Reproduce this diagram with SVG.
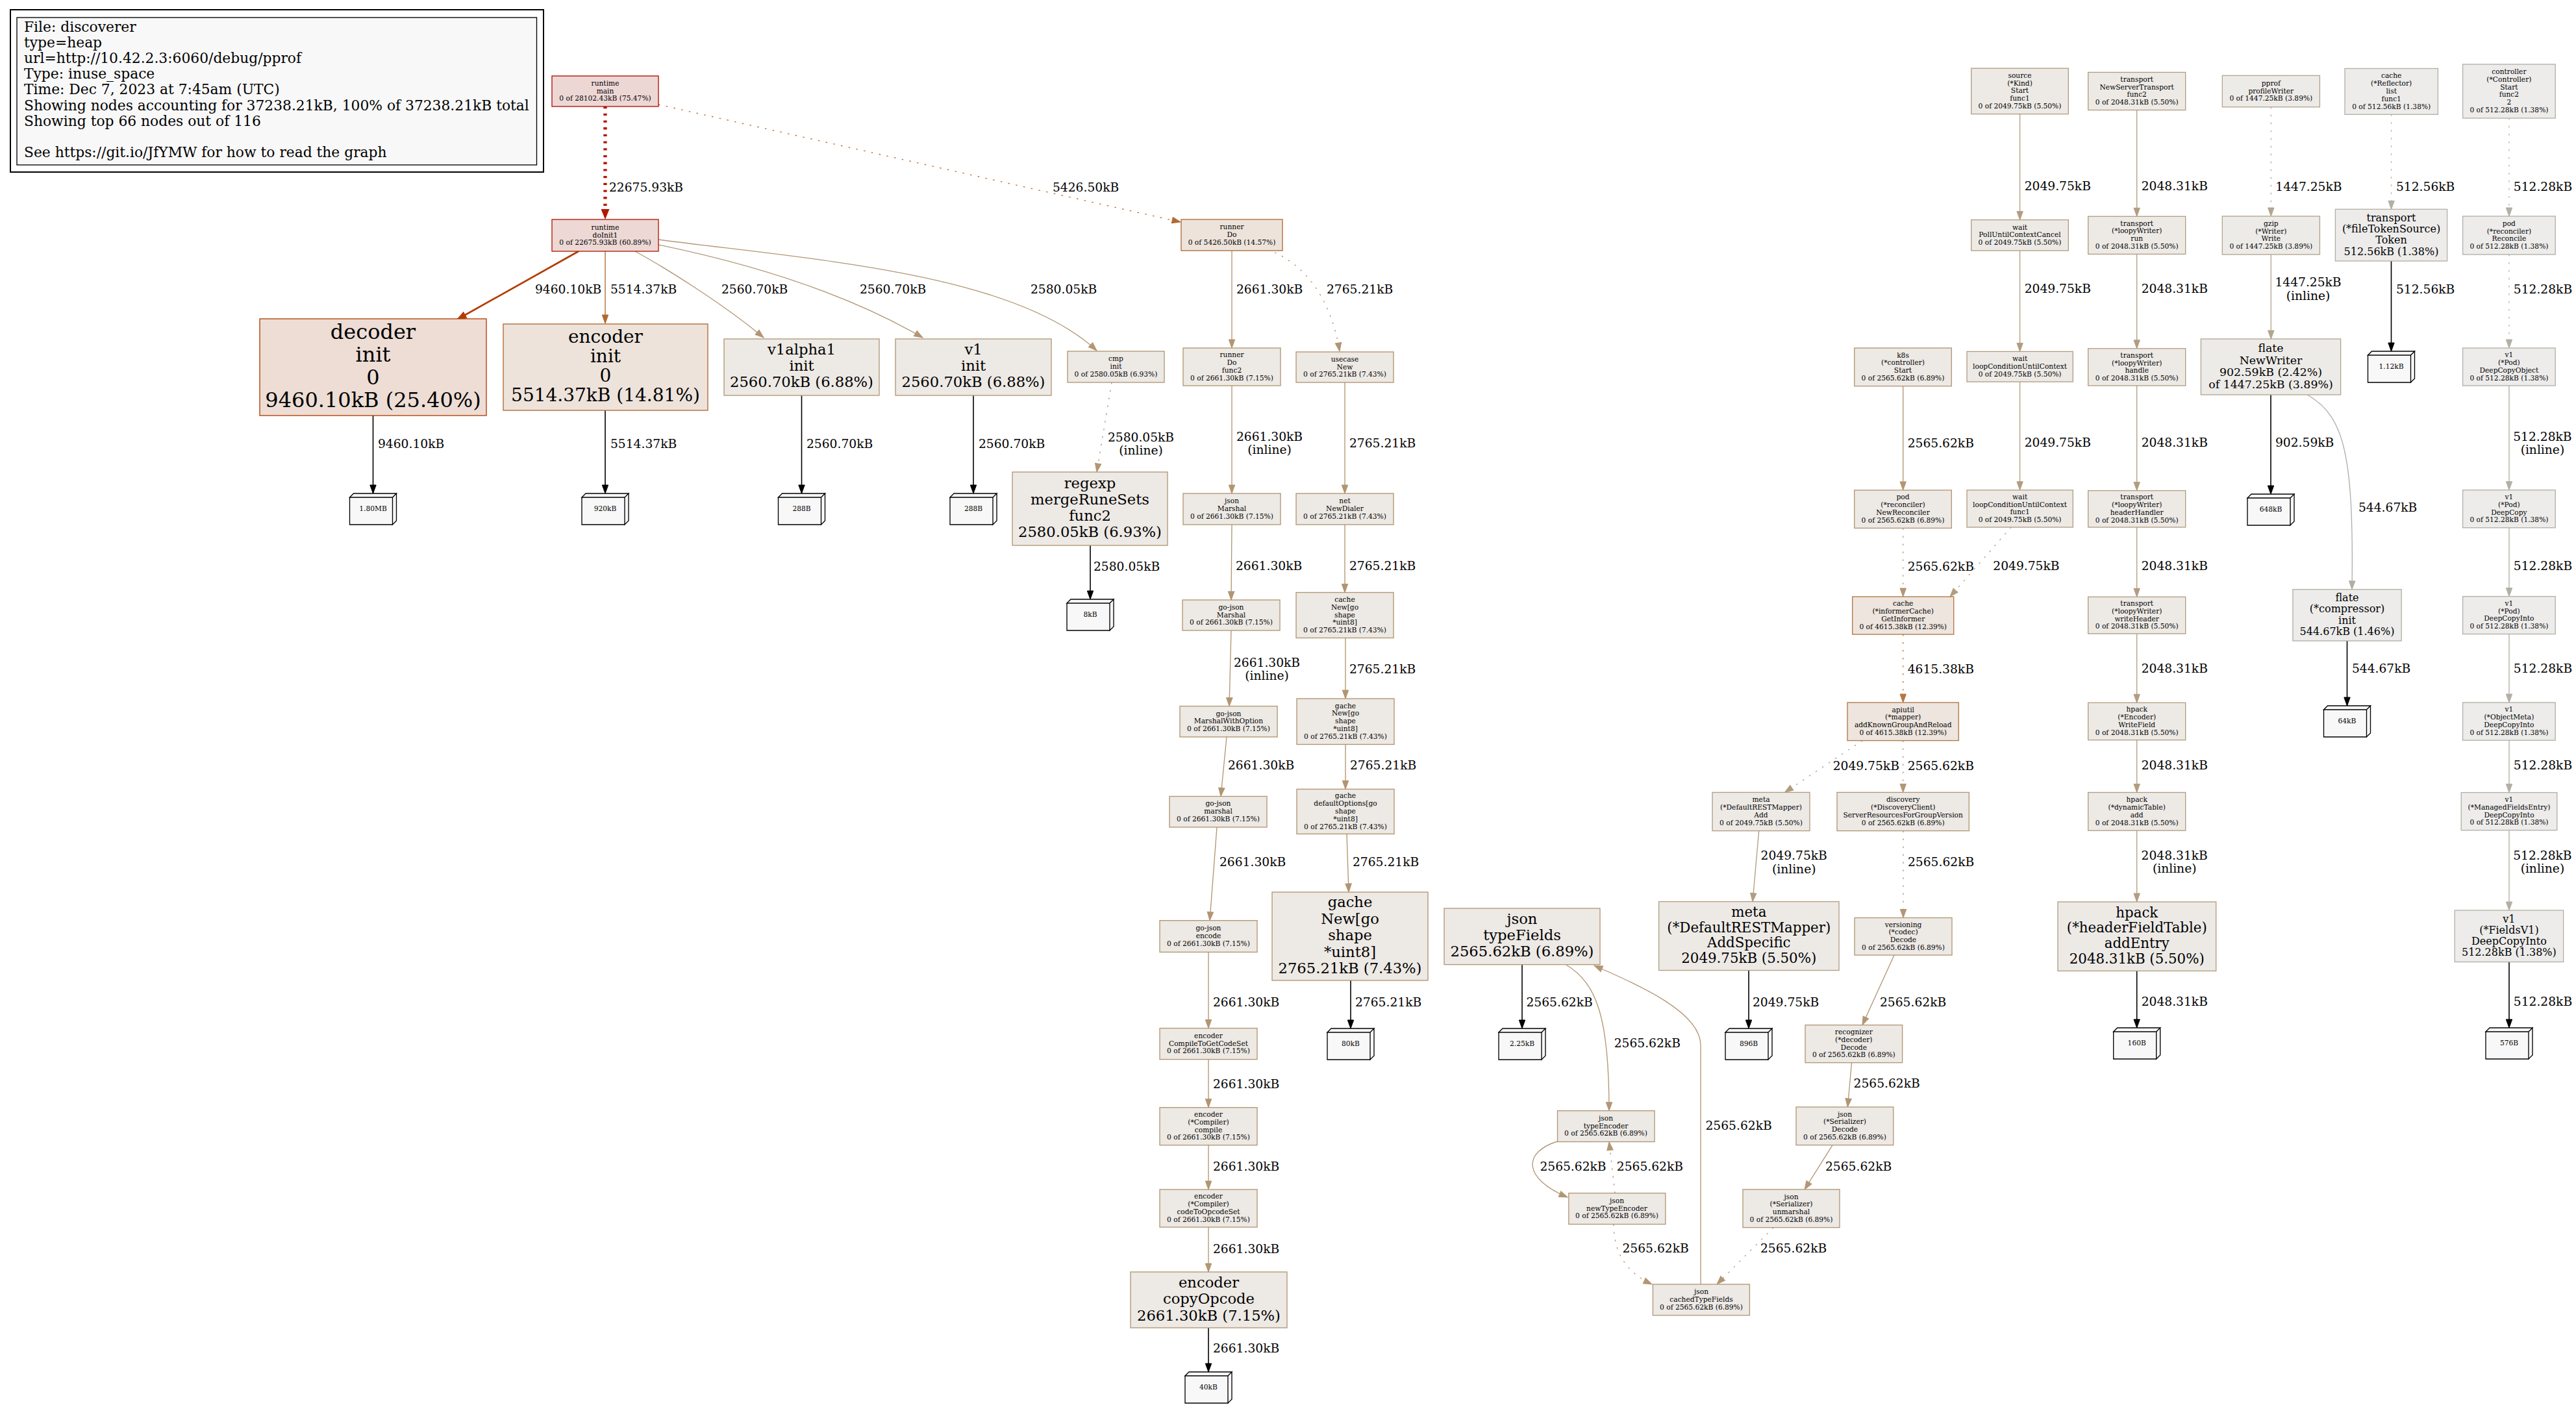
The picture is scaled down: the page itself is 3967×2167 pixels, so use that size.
<svg xmlns="http://www.w3.org/2000/svg" xmlns:xlink="http://www.w3.org/1999/xlink" width="3967" height="2167" viewBox="0 0 3967 2167">
<style>
text{font-family:"DejaVu Serif","Liberation Serif",serif;fill:#000}
.node text{text-anchor:middle}
.node rect{stroke-width:1.33}
.s{font-size:10.67px}.f12{font-size:16px}.f13{font-size:17.33px}.f16{font-size:21.33px}.f17{font-size:22.67px}.f21{font-size:28px}.f24{font-size:32px}
.lb{font-size:18.67px}.lm{font-size:18.67px;text-anchor:middle}
.leg{font-size:21.8px}
.e{fill:none;stroke-width:1.33}
.d{stroke-dasharray:2.5,9.5}
.leaf use{fill:#f8f8f8;stroke:#000;stroke-width:1.33}
.leaf text{font-size:10.67px;text-anchor:middle}
.cM{fill:#edd7d5;stroke:#b20e00}.cI{fill:#edd8d5;stroke:#b21800}.cD{fill:#edddd5;stroke:#b23c00}
.cE{fill:#ede3db;stroke:#b2672e}.cR{fill:#ede3db;stroke:#b26930}.cG{fill:#ede5de;stroke:#b27743}
.c743{fill:#ede9e4;stroke:#b29470}.c715{fill:#ede9e4;stroke:#b29572}.c69{fill:#ede9e5;stroke:#b29675}
.c55{fill:#edeae6;stroke:#b29d81}.c389{fill:#edebe8;stroke:#b2a58f}.c146{fill:#edeceb;stroke:#b2aea5}.c138{fill:#edeceb;stroke:#b2afa6}
.k0{stroke:#b21800;stroke-width:5.33;stroke-dasharray:3.3,7.4;marker-end:url(#m0)}
.k1{stroke:#b26930;marker-end:url(#m1)}.k2{stroke:#b23c00;stroke-width:2.67;marker-end:url(#m2)}
.k3{stroke:#b2672e;marker-end:url(#m3)}.k4{stroke:#b29675;marker-end:url(#m4)}.k5{stroke:#b29572;marker-end:url(#m5)}
.k6{stroke:#b29470;marker-end:url(#m6)}.k7{stroke:#b27743;marker-end:url(#m7)}.k8{stroke:#b29d81;marker-end:url(#m8)}
.k9{stroke:#b2a58f;marker-end:url(#m9)}.k10{stroke:#b2aea5;marker-end:url(#m10)}.k11{stroke:#b2afa6;marker-end:url(#m11)}
.kb{stroke:#000;stroke-width:1.6;marker-end:url(#mb)}
</style>
<defs>
<path id="box3d" d="M0,6H66V48H0ZM0,6L6,0H72L66,6ZM66,6L72,0V42L66,48Z"/>
<marker id="m0" viewBox="0 0 16 13" refX="0" refY="6.5" markerWidth="16" markerHeight="13" orient="auto" markerUnits="userSpaceOnUse"><path d="M0,0L16,6.5L0,13Z" fill="#b21800"/></marker>
<marker id="m1" viewBox="-1 -1 15 11.4" refX="13" refY="4.7" markerWidth="15" markerHeight="11.4" orient="auto" markerUnits="userSpaceOnUse"><path d="M0,0L13,4.7L0,9.4Z" fill="#b26930" stroke="#b26930"/></marker>
<marker id="m2" viewBox="-1 -1 16 12.4" refX="14" refY="5.2" markerWidth="16" markerHeight="12.4" orient="auto" markerUnits="userSpaceOnUse"><path d="M0,0L14,5.2L0,10.4Z" fill="#b23c00" stroke="#b23c00"/></marker>
<marker id="m3" viewBox="-1 -1 15 11.4" refX="13" refY="4.7" markerWidth="15" markerHeight="11.4" orient="auto" markerUnits="userSpaceOnUse"><path d="M0,0L13,4.7L0,9.4Z" fill="#b2672e" stroke="#b2672e"/></marker>
<marker id="m4" viewBox="-1 -1 15 11.4" refX="13" refY="4.7" markerWidth="15" markerHeight="11.4" orient="auto" markerUnits="userSpaceOnUse"><path d="M0,0L13,4.7L0,9.4Z" fill="#b29675" stroke="#b29675"/></marker>
<marker id="m5" viewBox="-1 -1 15 11.4" refX="13" refY="4.7" markerWidth="15" markerHeight="11.4" orient="auto" markerUnits="userSpaceOnUse"><path d="M0,0L13,4.7L0,9.4Z" fill="#b29572" stroke="#b29572"/></marker>
<marker id="m6" viewBox="-1 -1 15 11.4" refX="13" refY="4.7" markerWidth="15" markerHeight="11.4" orient="auto" markerUnits="userSpaceOnUse"><path d="M0,0L13,4.7L0,9.4Z" fill="#b29470" stroke="#b29470"/></marker>
<marker id="m7" viewBox="-1 -1 15 11.4" refX="13" refY="4.7" markerWidth="15" markerHeight="11.4" orient="auto" markerUnits="userSpaceOnUse"><path d="M0,0L13,4.7L0,9.4Z" fill="#b27743" stroke="#b27743"/></marker>
<marker id="m8" viewBox="-1 -1 15 11.4" refX="13" refY="4.7" markerWidth="15" markerHeight="11.4" orient="auto" markerUnits="userSpaceOnUse"><path d="M0,0L13,4.7L0,9.4Z" fill="#b29d81" stroke="#b29d81"/></marker>
<marker id="m9" viewBox="-1 -1 15 11.4" refX="13" refY="4.7" markerWidth="15" markerHeight="11.4" orient="auto" markerUnits="userSpaceOnUse"><path d="M0,0L13,4.7L0,9.4Z" fill="#b2a58f" stroke="#b2a58f"/></marker>
<marker id="m10" viewBox="-1 -1 15 11.4" refX="13" refY="4.7" markerWidth="15" markerHeight="11.4" orient="auto" markerUnits="userSpaceOnUse"><path d="M0,0L13,4.7L0,9.4Z" fill="#b2aea5" stroke="#b2aea5"/></marker>
<marker id="m11" viewBox="-1 -1 15 11.4" refX="13" refY="4.7" markerWidth="15" markerHeight="11.4" orient="auto" markerUnits="userSpaceOnUse"><path d="M0,0L13,4.7L0,9.4Z" fill="#b2afa6" stroke="#b2afa6"/></marker>
<marker id="mb" viewBox="-1 -1 15 11.4" refX="13" refY="4.7" markerWidth="15" markerHeight="11.4" orient="auto" markerUnits="userSpaceOnUse"><path d="M0,0L13,4.7L0,9.4Z" fill="#000" stroke="#000"/></marker>
</defs>
<rect x="0" y="0" width="3967" height="2167" fill="#fff"/>

<g id="legend">
<rect x="16" y="15" width="821" height="250" fill="#fff" stroke="#000" stroke-width="2"/>
<rect x="26" y="27" width="800.5" height="227" fill="#f8f8f8" stroke="#000" stroke-width="1.33"/>
<text class="leg" x="37" y="49">File: discoverer</text>
<text class="leg" x="37" y="73.1">type=heap</text>
<text class="leg" x="37" y="97.2">url=http://10.42.2.3:6060/debug/pprof</text>
<text class="leg" x="37" y="121.3">Type: inuse_space</text>
<text class="leg" x="37" y="145.4">Time: Dec 7, 2023 at 7:45am (UTC)</text>
<text class="leg" x="37" y="169.5">Showing nodes accounting for 37238.21kB, 100% of 37238.21kB total</text>
<text class="leg" x="37" y="193.6">Showing top 66 nodes out of 116</text>
<text class="leg" x="37" y="241.8">See https://git.io/JfYMW for how to read the graph</text>
</g>

<g id="edges">
<path class="e k0" d="M932,164V322"/>
<path class="e k1 d" d="M1014,161L1818,342"/>
<path class="e k2" d="M891,387L704,492"/>
<path class="e k3" d="M932,387V498"/>
<path class="e k4" d="M978,387C1020,410 1110,465 1176,520"/>
<path class="e k4" d="M1014,377C1150,405 1300,450 1421,520"/>
<path class="e k4" d="M1014,369C1250,400 1560,420 1689,540"/>
<path class="e k4 d" d="M1712,589L1689,727"/>
<path class="e kb" d="M574.5,640V760"/>
<path class="e kb" d="M932,632V760"/>
<path class="e kb" d="M1234.5,609V760"/>
<path class="e kb" d="M1499,609V760"/>
<path class="e kb" d="M1679,840V923"/>
<path class="e k5" d="M1897,386V536"/>
<path class="e k6 d" d="M1963,389C2010,410 2050,460 2063,541"/>
<path class="e k5" d="M1897,594V760"/>
<path class="e k6" d="M2071,589V760"/>
<path class="e k5" d="M1897,808L1896,924"/>
<path class="e k6" d="M2071,808V912.5"/>
<path class="e k5" d="M1896,971L1893,1087.6"/>
<path class="e k6" d="M2072,982.6V1076"/>
<path class="e k5" d="M1889,1135L1880,1226.5"/>
<path class="e k6" d="M2072,1146.5V1215.4"/>
<path class="e k5" d="M1874,1274L1863,1417.7"/>
<path class="e k6" d="M2074,1284.5L2077,1374"/>
<path class="e k5" d="M1861,1466.4V1583.6"/>
<path class="e kb" d="M2080,1510V1584"/>
<path class="e k5" d="M1861,1631.7V1705.7"/>
<path class="e k5" d="M1861,1763.7V1832"/>
<path class="e k5" d="M1861,1890V1959"/>
<path class="e kb" d="M1861,2045V2113"/>
<path class="e kb" d="M2344,1485.6V1584"/>
<path class="e k4" d="M2412,1486C2460,1515 2478,1570 2478,1710.7"/>
<path class="e k4" d="M2619,1978V1610C2619,1560 2530,1520 2455,1487"/>
<path class="e k4" d="M2398,1758C2345,1775 2345,1815 2414,1844"/>
<path class="e k4 d" d="M2487,1837.6L2478,1758.5"/>
<path class="e k4 d" d="M2485,1885.5C2485,1930 2505,1960 2544,1978"/>
<path class="e k4 d" d="M2731,1890.6L2644,1978"/>
<path class="e k4" d="M2822,1763.6L2779,1832"/>
<path class="e k4" d="M2851.5,1636.7L2845.4,1705"/>
<path class="e k4" d="M2917,1471L2868,1578.7"/>
<path class="e k4 d" d="M2931,1279.6V1413.5"/>
<path class="e k8" d="M2708.7,1279.6L2699,1388.6"/>
<path class="e kb" d="M2693,1494.5V1584"/>
<path class="e k8 d" d="M2868,1140.6L2748.5,1220.4"/>
<path class="e k4 d" d="M2930.7,1140.6V1220.4"/>
<path class="e k7 d" d="M2930.7,977V1082"/>
<path class="e k4 d" d="M2930.7,813.4V919"/>
<path class="e k4" d="M2930.7,594.7V754.9"/>
<path class="e k8 d" d="M3097,812L3003,919"/>
<path class="e k8" d="M3110.6,175.6V338.6"/>
<path class="e k8" d="M3110.6,386V541.4"/>
<path class="e k8" d="M3110.6,588V754.8"/>
<path class="e k8" d="M3290.7,169.5V333.3"/>
<path class="e k8" d="M3290.7,391.4V536.8"/>
<path class="e k8" d="M3290.7,594V755.6"/>
<path class="e k8" d="M3290.7,812V919.3"/>
<path class="e k8" d="M3290.7,976V1082.3"/>
<path class="e k8" d="M3290.7,1139.7V1220.5"/>
<path class="e k8" d="M3290.7,1279.2V1389"/>
<path class="e kb" d="M3290.7,1495.4V1583"/>
<path class="e k9 d" d="M3497.3,164.8V333"/>
<path class="e k9" d="M3497.3,392V522"/>
<path class="e kb" d="M3497,608V761"/>
<path class="e k10" d="M3553,608C3610,640 3625,700 3622,907.8"/>
<path class="e kb" d="M3614.5,987V1087"/>
<path class="e k11 d" d="M3682.6,176.3V322.3"/>
<path class="e kb" d="M3682.5,402V541"/>
<path class="e k11 d" d="M3864,182V333"/>
<path class="e k11 d" d="M3864,392V536"/>
<path class="e k11" d="M3864,594V754.7"/>
<path class="e k11" d="M3864,812.8V918.6"/>
<path class="e k11" d="M3864,976.5V1082"/>
<path class="e k11" d="M3864,1140.2V1220.6"/>
<path class="e k11" d="M3864,1278.7V1402"/>
<path class="e kb" d="M3864,1481.5V1583"/>
</g>

<g id="edge-labels">
<text class="lb" x="938" y="294.8">22675.93kB</text>
<text class="lb" x="1621" y="294.8">5426.50kB</text>
<text class="lb" x="824" y="451.8">9460.10kB</text>
<text class="lb" x="940" y="451.8">5514.37kB</text>
<text class="lb" x="1111" y="451.8">2560.70kB</text>
<text class="lb" x="1324" y="451.8">2560.70kB</text>
<text class="lb" x="1587" y="451.8">2580.05kB</text>
<text class="lb" x="582" y="689.8">9460.10kB</text>
<text class="lb" x="940" y="689.8">5514.37kB</text>
<text class="lb" x="1242" y="689.8">2560.70kB</text>
<text class="lb" x="1507" y="689.8">2560.70kB</text>
<text class="lm" x="1757" y="679.8">2580.05kB</text>
<text class="lm" x="1757" y="699.8">(inline)</text>
<text class="lb" x="1684" y="878.8">2580.05kB</text>
<text class="lb" x="1904" y="451.8">2661.30kB</text>
<text class="lb" x="2043" y="451.8">2765.21kB</text>
<text class="lm" x="1955" y="678.8">2661.30kB</text>
<text class="lm" x="1955" y="699.3">(inline)</text>
<text class="lb" x="2078" y="688.8">2765.21kB</text>
<text class="lb" x="1903" y="878.3">2661.30kB</text>
<text class="lb" x="2078" y="878.3">2765.21kB</text>
<text class="lm" x="1951" y="1026.8">2661.30kB</text>
<text class="lm" x="1951" y="1046.8">(inline)</text>
<text class="lb" x="2078" y="1036.8">2765.21kB</text>
<text class="lb" x="1891" y="1185.3">2661.30kB</text>
<text class="lb" x="2079" y="1185.3">2765.21kB</text>
<text class="lb" x="1878" y="1333.8">2661.30kB</text>
<text class="lb" x="2083" y="1333.8">2765.21kB</text>
<text class="lb" x="1868" y="1549.8">2661.30kB</text>
<text class="lb" x="2087" y="1549.8">2765.21kB</text>
<text class="lb" x="1868" y="1675.5">2661.30kB</text>
<text class="lb" x="1868" y="1802.5">2661.30kB</text>
<text class="lb" x="1868" y="1929.6">2661.30kB</text>
<text class="lb" x="1868" y="2082.8">2661.30kB</text>
<text class="lb" x="2350.5" y="1549.8">2565.62kB</text>
<text class="lb" x="2485.7" y="1612.8">2565.62kB</text>
<text class="lb" x="2626.5" y="1739.8">2565.62kB</text>
<text class="lb" x="2371.4" y="1802.8">2565.62kB</text>
<text class="lb" x="2489.8" y="1802.8">2565.62kB</text>
<text class="lb" x="2498.5" y="1929.2">2565.62kB</text>
<text class="lb" x="2711" y="1929.2">2565.62kB</text>
<text class="lb" x="2811" y="1802.8">2565.62kB</text>
<text class="lb" x="2854.6" y="1675.4">2565.62kB</text>
<text class="lb" x="2895" y="1549.8">2565.62kB</text>
<text class="lb" x="2699" y="1549.8">2049.75kB</text>
<text class="lm" x="2762.7" y="1323.8">2049.75kB</text>
<text class="lm" x="2762.7" y="1344.8">(inline)</text>
<text class="lb" x="2938" y="1333.6">2565.62kB</text>
<text class="lb" x="2822.7" y="1185.8">2049.75kB</text>
<text class="lb" x="2937.7" y="1185.8">2565.62kB</text>
<text class="lb" x="2937.7" y="1036.8">4615.38kB</text>
<text class="lb" x="2937.7" y="878.8">2565.62kB</text>
<text class="lb" x="2937.7" y="688.8">2565.62kB</text>
<text class="lb" x="3069.3" y="877.8">2049.75kB</text>
<text class="lb" x="3117.7" y="293.4">2049.75kB</text>
<text class="lb" x="3117.7" y="450.8">2049.75kB</text>
<text class="lb" x="3117.7" y="688.2">2049.75kB</text>
<text class="lb" x="3297.7" y="293.4">2048.31kB</text>
<text class="lb" x="3297.7" y="450.8">2048.31kB</text>
<text class="lb" x="3297.7" y="688.2">2048.31kB</text>
<text class="lb" x="3297.7" y="877.8">2048.31kB</text>
<text class="lb" x="3297.7" y="1035.5">2048.31kB</text>
<text class="lb" x="3297.7" y="1184.8">2048.31kB</text>
<text class="lm" x="3348.7" y="1323.6">2048.31kB</text>
<text class="lm" x="3348.7" y="1343.8">(inline)</text>
<text class="lb" x="3297.7" y="1549.4">2048.31kB</text>
<text class="lb" x="3504.3" y="293.8">1447.25kB</text>
<text class="lm" x="3554.5" y="441.4">1447.25kB</text>
<text class="lm" x="3554.5" y="461.8">(inline)</text>
<text class="lb" x="3504" y="688.2">902.59kB</text>
<text class="lb" x="3632" y="788.3">544.67kB</text>
<text class="lb" x="3621.9" y="1036.1">544.67kB</text>
<text class="lb" x="3690" y="293.8">512.56kB</text>
<text class="lb" x="3690" y="451.6">512.56kB</text>
<text class="lb" x="3870.8" y="293.8">512.28kB</text>
<text class="lb" x="3870.8" y="451.6">512.28kB</text>
<text class="lm" x="3915.4" y="678.6">512.28kB</text>
<text class="lm" x="3915.4" y="698.8">(inline)</text>
<text class="lb" x="3870.8" y="878.3">512.28kB</text>
<text class="lb" x="3870.8" y="1036.1">512.28kB</text>
<text class="lb" x="3870.8" y="1184.5">512.28kB</text>
<text class="lm" x="3915.4" y="1323.8">512.28kB</text>
<text class="lm" x="3915.4" y="1344.4">(inline)</text>
<text class="lb" x="3870.8" y="1548.8">512.28kB</text>
</g>

<g id="n1" class="node"><rect class="cM" x="850" y="117" width="164" height="47"/><text class="s" x="932" y="131.7">runtime</text><text class="s" x="932" y="143.5">main</text><text class="s" x="932" y="155.3">0 of 28102.43kB (75.47%)</text></g>
<g id="n2" class="node"><rect class="cI" x="850" y="338" width="164" height="49"/><text class="s" x="932" y="353.7">runtime</text><text class="s" x="932" y="365.5">doInit1</text><text class="s" x="932" y="377.3">0 of 22675.93kB (60.89%)</text></g>
<g id="n3" class="node"><rect class="cD" x="400" y="491" width="349" height="149"/><text class="f24" x="574.5" y="522">decoder</text><text class="f24" x="574.5" y="557">init</text><text class="f24" x="574.5" y="592">0</text><text class="f24" x="574.5" y="627">9460.10kB (25.40%)</text></g>
<g id="n4" class="node"><rect class="cE" x="775" y="499" width="315" height="133"/><text class="f21" x="932.5" y="528.3">encoder</text><text class="f21" x="932.5" y="558.3">init</text><text class="f21" x="932.5" y="588.3">0</text><text class="f21" x="932.5" y="618.3">5514.37kB (14.81%)</text></g>
<g id="n5" class="node"><rect class="c69" x="1115" y="522" width="239" height="87"/><text class="f17" x="1234.5" y="545.5">v1alpha1</text><text class="f17" x="1234.5" y="570.5">init</text><text class="f17" x="1234.5" y="595.5">2560.70kB (6.88%)</text></g>
<g id="n6" class="node"><rect class="c69" x="1379" y="522" width="240" height="87"/><text class="f17" x="1499" y="545.5">v1</text><text class="f17" x="1499" y="570.5">init</text><text class="f17" x="1499" y="595.5">2560.70kB (6.88%)</text></g>
<g id="n7" class="node"><rect class="c69" x="1644" y="541" width="149" height="48"/><text class="s" x="1718.5" y="556.2">cmp</text><text class="s" x="1718.5" y="568">init</text><text class="s" x="1718.5" y="579.8">0 of 2580.05kB (6.93%)</text></g>
<g id="n8" class="node"><rect class="c69" x="1559" y="727" width="239" height="113"/><text class="f17" x="1678.5" y="752">regexp</text><text class="f17" x="1678.5" y="777">mergeRuneSets</text><text class="f17" x="1678.5" y="802">func2</text><text class="f17" x="1678.5" y="827">2580.05kB (6.93%)</text></g>
<g id="n9" class="node"><rect class="cR" x="1819" y="338" width="156" height="48"/><text class="s" x="1897" y="353.2">runner</text><text class="s" x="1897" y="365">Do</text><text class="s" x="1897" y="376.8">0 of 5426.50kB (14.57%)</text></g>
<g id="n10" class="node"><rect class="c715" x="1822" y="536" width="150" height="58"/><text class="s" x="1897" y="550.3">runner</text><text class="s" x="1897" y="562.1">Do</text><text class="s" x="1897" y="573.9">func2</text><text class="s" x="1897" y="585.7">0 of 2661.30kB (7.15%)</text></g>
<g id="n11" class="node"><rect class="c743" x="1996" y="542" width="150" height="47"/><text class="s" x="2071" y="556.7">usecase</text><text class="s" x="2071" y="568.5">New</text><text class="s" x="2071" y="580.3">0 of 2765.21kB (7.43%)</text></g>
<g id="n12" class="node"><rect class="c715" x="1822" y="760" width="150" height="48"/><text class="s" x="1897" y="775.2">json</text><text class="s" x="1897" y="787">Marshal</text><text class="s" x="1897" y="798.8">0 of 2661.30kB (7.15%)</text></g>
<g id="n13" class="node"><rect class="c743" x="1996" y="760" width="150" height="48"/><text class="s" x="2071" y="775.2">net</text><text class="s" x="2071" y="787">NewDialer</text><text class="s" x="2071" y="798.8">0 of 2765.21kB (7.43%)</text></g>
<g id="n14" class="node"><rect class="c715" x="1821" y="924" width="150" height="47"/><text class="s" x="1896" y="938.7">go-json</text><text class="s" x="1896" y="950.5">Marshal</text><text class="s" x="1896" y="962.3">0 of 2661.30kB (7.15%)</text></g>
<g id="n15" class="node"><rect class="c743" x="1996" y="912.5" width="150" height="70"/><text class="s" x="2071" y="926.9">cache</text><text class="s" x="2071" y="938.7">New[go</text><text class="s" x="2071" y="950.5">shape</text><text class="s" x="2071" y="962.3">*uint8]</text><text class="s" x="2071" y="974.1">0 of 2765.21kB (7.43%)</text></g>
<g id="n16" class="node"><rect class="c715" x="1817" y="1087.6" width="150" height="47.4"/><text class="s" x="1892" y="1102.5">go-json</text><text class="s" x="1892" y="1114.3">MarshalWithOption</text><text class="s" x="1892" y="1126.1">0 of 2661.30kB (7.15%)</text></g>
<g id="n17" class="node"><rect class="c743" x="1997" y="1076" width="150" height="70.5"/><text class="s" x="2072" y="1090.6">gache</text><text class="s" x="2072" y="1102.4">New[go</text><text class="s" x="2072" y="1114.2">shape</text><text class="s" x="2072" y="1126">*uint8]</text><text class="s" x="2072" y="1137.8">0 of 2765.21kB (7.43%)</text></g>
<g id="n18" class="node"><rect class="c715" x="1801" y="1226.5" width="150" height="47.5"/><text class="s" x="1876" y="1241.4">go-json</text><text class="s" x="1876" y="1253.2">marshal</text><text class="s" x="1876" y="1265">0 of 2661.30kB (7.15%)</text></g>
<g id="n19" class="node"><rect class="c743" x="1997" y="1215.4" width="150" height="69"/><text class="s" x="2072" y="1229.3">gache</text><text class="s" x="2072" y="1241.1">defaultOptions[go</text><text class="s" x="2072" y="1252.9">shape</text><text class="s" x="2072" y="1264.7">*uint8]</text><text class="s" x="2072" y="1276.5">0 of 2765.21kB (7.43%)</text></g>
<g id="n20" class="node"><rect class="c715" x="1786" y="1417.7" width="150" height="48.7"/><text class="s" x="1861" y="1433.2">go-json</text><text class="s" x="1861" y="1445">encode</text><text class="s" x="1861" y="1456.8">0 of 2661.30kB (7.15%)</text></g>
<g id="n21" class="node"><rect class="c743" x="1959" y="1374" width="240" height="136"/><text class="f17" x="2079" y="1397">gache</text><text class="f17" x="2079" y="1422.5">New[go</text><text class="f17" x="2079" y="1448">shape</text><text class="f17" x="2079" y="1473.5">*uint8]</text><text class="f17" x="2079" y="1499">2765.21kB (7.43%)</text></g>
<g id="n22" class="node"><rect class="c715" x="1786" y="1583.6" width="150" height="48"/><text class="s" x="1861" y="1598.8">encoder</text><text class="s" x="1861" y="1610.6">CompileToGetCodeSet</text><text class="s" x="1861" y="1622.4">0 of 2661.30kB (7.15%)</text></g>
<g id="n23" class="node"><rect class="c715" x="1786" y="1705.7" width="150" height="58"/><text class="s" x="1861" y="1720">encoder</text><text class="s" x="1861" y="1731.8">(*Compiler)</text><text class="s" x="1861" y="1743.6">compile</text><text class="s" x="1861" y="1755.4">0 of 2661.30kB (7.15%)</text></g>
<g id="n24" class="node"><rect class="c715" x="1786" y="1832" width="150" height="58"/><text class="s" x="1861" y="1846.3">encoder</text><text class="s" x="1861" y="1858.1">(*Compiler)</text><text class="s" x="1861" y="1869.9">codeToOpcodeSet</text><text class="s" x="1861" y="1881.7">0 of 2661.30kB (7.15%)</text></g>
<g id="n25" class="node"><rect class="c715" x="1741" y="1959" width="241" height="86"/><text class="f17" x="1861.5" y="1982.5">encoder</text><text class="f17" x="1861.5" y="2008">copyOpcode</text><text class="f17" x="1861.5" y="2033.5">2661.30kB (7.15%)</text></g>
<g id="n26" class="node"><rect class="c69" x="2224" y="1399" width="240" height="86.6"/><text class="f17" x="2344" y="1423.3">json</text><text class="f17" x="2344" y="1448.3">typeFields</text><text class="f17" x="2344" y="1473.3">2565.62kB (6.89%)</text></g>
<g id="n27" class="node"><rect class="c69" x="2398.5" y="1710.7" width="149.5" height="47.8"/><text class="s" x="2473" y="1725.8">json</text><text class="s" x="2473" y="1737.6">typeEncoder</text><text class="s" x="2473" y="1749.4">0 of 2565.62kB (6.89%)</text></g>
<g id="n28" class="node"><rect class="c69" x="2415.8" y="1837.6" width="149" height="47.9"/><text class="s" x="2490" y="1852.7">json</text><text class="s" x="2490" y="1864.5">newTypeEncoder</text><text class="s" x="2490" y="1876.3">0 of 2565.62kB (6.89%)</text></g>
<g id="n29" class="node"><rect class="c69" x="2545.4" y="1978" width="149" height="47.8"/><text class="s" x="2620" y="1993.1">json</text><text class="s" x="2620" y="2004.9">cachedTypeFields</text><text class="s" x="2620" y="2016.7">0 of 2565.62kB (6.89%)</text></g>
<g id="n30" class="node"><rect class="c69" x="2855.7" y="536" width="149.6" height="58.7"/><text class="s" x="2930.5" y="550.6">k8s</text><text class="s" x="2930.5" y="562.4">(*controller)</text><text class="s" x="2930.5" y="574.2">Start</text><text class="s" x="2930.5" y="586">0 of 2565.62kB (6.89%)</text></g>
<g id="n31" class="node"><rect class="c69" x="2855.7" y="754.9" width="149.6" height="58.5"/><text class="s" x="2930.5" y="769.4">pod</text><text class="s" x="2930.5" y="781.2">(*reconciler)</text><text class="s" x="2930.5" y="793">NewReconciler</text><text class="s" x="2930.5" y="804.8">0 of 2565.62kB (6.89%)</text></g>
<g id="n32" class="node"><rect class="cG" x="2852.7" y="919" width="156" height="58"/><text class="s" x="2930.7" y="933.3">cache</text><text class="s" x="2930.7" y="945.1">(*informerCache)</text><text class="s" x="2930.7" y="956.9">GetInformer</text><text class="s" x="2930.7" y="968.7">0 of 4615.38kB (12.39%)</text></g>
<g id="n33" class="node"><rect class="cG" x="2845" y="1082" width="171.3" height="58.6"/><text class="s" x="2930.7" y="1096.6">apiutil</text><text class="s" x="2930.7" y="1108.4">(*mapper)</text><text class="s" x="2930.7" y="1120.2">addKnownGroupAndReload</text><text class="s" x="2930.7" y="1132">0 of 4615.38kB (12.39%)</text></g>
<g id="n34" class="node"><rect class="c55" x="2637" y="1220.4" width="150" height="59.2"/><text class="s" x="2712" y="1235.3">meta</text><text class="s" x="2712" y="1247.1">(*DefaultRESTMapper)</text><text class="s" x="2712" y="1258.9">Add</text><text class="s" x="2712" y="1270.7">0 of 2049.75kB (5.50%)</text></g>
<g id="n35" class="node"><rect class="c69" x="2829" y="1220.4" width="203.3" height="59.2"/><text class="s" x="2930.7" y="1235.3">discovery</text><text class="s" x="2930.7" y="1247.1">(*DiscoveryClient)</text><text class="s" x="2930.7" y="1258.9">ServerResourcesForGroupVersion</text><text class="s" x="2930.7" y="1270.7">0 of 2565.62kB (6.89%)</text></g>
<g id="n36" class="node"><rect class="c55" x="2554.6" y="1388.6" width="277.4" height="105.9"/><text class="f16" x="2693.3" y="1412.2">meta</text><text class="f16" x="2693.3" y="1435.8">(*DefaultRESTMapper)</text><text class="f16" x="2693.3" y="1459.4">AddSpecific</text><text class="f16" x="2693.3" y="1483">2049.75kB (5.50%)</text></g>
<g id="n37" class="node"><rect class="c69" x="2856" y="1413.5" width="150" height="57.5"/><text class="s" x="2931" y="1427.5">versioning</text><text class="s" x="2931" y="1439.3">(*codec)</text><text class="s" x="2931" y="1451.1">Decode</text><text class="s" x="2931" y="1462.9">0 of 2565.62kB (6.89%)</text></g>
<g id="n38" class="node"><rect class="c69" x="2780" y="1578.7" width="149.6" height="58"/><text class="s" x="2854.8" y="1593">recognizer</text><text class="s" x="2854.8" y="1604.8">(*decoder)</text><text class="s" x="2854.8" y="1616.6">Decode</text><text class="s" x="2854.8" y="1628.4">0 of 2565.62kB (6.89%)</text></g>
<g id="n39" class="node"><rect class="c69" x="2766" y="1705" width="149.8" height="58.6"/><text class="s" x="2841" y="1719.6">json</text><text class="s" x="2841" y="1731.4">(*Serializer)</text><text class="s" x="2841" y="1743.2">Decode</text><text class="s" x="2841" y="1755">0 of 2565.62kB (6.89%)</text></g>
<g id="n40" class="node"><rect class="c69" x="2684" y="1831.9" width="149" height="58.7"/><text class="s" x="2758.5" y="1846.5">json</text><text class="s" x="2758.5" y="1858.3">(*Serializer)</text><text class="s" x="2758.5" y="1870.1">unmarshal</text><text class="s" x="2758.5" y="1881.9">0 of 2565.62kB (6.89%)</text></g>
<g id="n41" class="node"><rect class="c55" x="3035.7" y="105.2" width="149.6" height="70.4"/><text class="s" x="3110.5" y="119.8">source</text><text class="s" x="3110.5" y="131.6">(*Kind)</text><text class="s" x="3110.5" y="143.4">Start</text><text class="s" x="3110.5" y="155.2">func1</text><text class="s" x="3110.5" y="167">0 of 2049.75kB (5.50%)</text></g>
<g id="n42" class="node"><rect class="c55" x="3035.7" y="338.6" width="149.6" height="47.4"/><text class="s" x="3110.5" y="353.5">wait</text><text class="s" x="3110.5" y="365.3">PollUntilContextCancel</text><text class="s" x="3110.5" y="377.1">0 of 2049.75kB (5.50%)</text></g>
<g id="n43" class="node"><rect class="c55" x="3029" y="541.4" width="163.3" height="46.6"/><text class="s" x="3110.6" y="555.9">wait</text><text class="s" x="3110.6" y="567.7">loopConditionUntilContext</text><text class="s" x="3110.6" y="579.5">0 of 2049.75kB (5.50%)</text></g>
<g id="n44" class="node"><rect class="c55" x="3029" y="754.8" width="163.3" height="57.2"/><text class="s" x="3110.6" y="768.7">wait</text><text class="s" x="3110.6" y="780.5">loopConditionUntilContext</text><text class="s" x="3110.6" y="792.3">func1</text><text class="s" x="3110.6" y="804.1">0 of 2049.75kB (5.50%)</text></g>
<g id="n45" class="node"><rect class="c55" x="3215.7" y="111.4" width="150" height="58.1"/><text class="s" x="3290.7" y="125.7">transport</text><text class="s" x="3290.7" y="137.5">NewServerTransport</text><text class="s" x="3290.7" y="149.3">func2</text><text class="s" x="3290.7" y="161.1">0 of 2048.31kB (5.50%)</text></g>
<g id="n46" class="node"><rect class="c55" x="3215.7" y="333.3" width="150" height="58.1"/><text class="s" x="3290.7" y="347.6">transport</text><text class="s" x="3290.7" y="359.4">(*loopyWriter)</text><text class="s" x="3290.7" y="371.2">run</text><text class="s" x="3290.7" y="383">0 of 2048.31kB (5.50%)</text></g>
<g id="n47" class="node"><rect class="c55" x="3215.7" y="536.8" width="150" height="57.2"/><text class="s" x="3290.7" y="550.7">transport</text><text class="s" x="3290.7" y="562.5">(*loopyWriter)</text><text class="s" x="3290.7" y="574.3">handle</text><text class="s" x="3290.7" y="586.1">0 of 2048.31kB (5.50%)</text></g>
<g id="n48" class="node"><rect class="c55" x="3215.7" y="755.6" width="150" height="56.4"/><text class="s" x="3290.7" y="769.1">transport</text><text class="s" x="3290.7" y="780.9">(*loopyWriter)</text><text class="s" x="3290.7" y="792.7">headerHandler</text><text class="s" x="3290.7" y="804.5">0 of 2048.31kB (5.50%)</text></g>
<g id="n49" class="node"><rect class="c55" x="3215.7" y="919.3" width="150" height="56.7"/><text class="s" x="3290.7" y="932.9">transport</text><text class="s" x="3290.7" y="944.7">(*loopyWriter)</text><text class="s" x="3290.7" y="956.5">writeHeader</text><text class="s" x="3290.7" y="968.3">0 of 2048.31kB (5.50%)</text></g>
<g id="n50" class="node"><rect class="c55" x="3215.7" y="1082.3" width="150" height="57.4"/><text class="s" x="3290.7" y="1096.3">hpack</text><text class="s" x="3290.7" y="1108.1">(*Encoder)</text><text class="s" x="3290.7" y="1119.9">WriteField</text><text class="s" x="3290.7" y="1131.7">0 of 2048.31kB (5.50%)</text></g>
<g id="n51" class="node"><rect class="c55" x="3215.7" y="1220.5" width="150" height="58.7"/><text class="s" x="3290.7" y="1235.1">hpack</text><text class="s" x="3290.7" y="1246.9">(*dynamicTable)</text><text class="s" x="3290.7" y="1258.7">add</text><text class="s" x="3290.7" y="1270.5">0 of 2048.31kB (5.50%)</text></g>
<g id="n52" class="node"><rect class="c55" x="3169" y="1389" width="243.7" height="106.4"/><text class="f16" x="3290.8" y="1412.8">hpack</text><text class="f16" x="3290.8" y="1436.4">(*headerFieldTable)</text><text class="f16" x="3290.8" y="1460">addEntry</text><text class="f16" x="3290.8" y="1483.6">2048.31kB (5.50%)</text></g>
<g id="n53" class="node"><rect class="c389" x="3422.3" y="116.4" width="150.1" height="48.4"/><text class="s" x="3497.3" y="131.8">pprof</text><text class="s" x="3497.3" y="143.6">profileWriter</text><text class="s" x="3497.3" y="155.4">0 of 1447.25kB (3.89%)</text></g>
<g id="n54" class="node"><rect class="c389" x="3422.3" y="333" width="150.1" height="59"/><text class="s" x="3497.3" y="347.8">gzip</text><text class="s" x="3497.3" y="359.6">(*Writer)</text><text class="s" x="3497.3" y="371.4">Write</text><text class="s" x="3497.3" y="383.2">0 of 1447.25kB (3.89%)</text></g>
<g id="n55" class="node"><rect class="c389" x="3389.4" y="522" width="215.2" height="86"/><text class="f13" x="3497" y="542.3">flate</text><text class="f13" x="3497" y="560.8">NewWriter</text><text class="f13" x="3497" y="579.3">902.59kB (2.42%)</text><text class="f13" x="3497" y="597.8">of 1447.25kB (3.89%)</text></g>
<g id="n56" class="node"><rect class="c146" x="3530.9" y="907.8" width="167.3" height="79.2"/><text class="f12" x="3614.5" y="926.1">flate</text><text class="f12" x="3614.5" y="943.3">(*compressor)</text><text class="f12" x="3614.5" y="960.5">init</text><text class="f12" x="3614.5" y="977.7">544.67kB (1.46%)</text></g>
<g id="n57" class="node"><rect class="c138" x="3611" y="105.5" width="143.4" height="70.8"/><text class="s" x="3682.7" y="120.3">cache</text><text class="s" x="3682.7" y="132.1">(*Reflector)</text><text class="s" x="3682.7" y="143.9">list</text><text class="s" x="3682.7" y="155.7">func1</text><text class="s" x="3682.7" y="167.5">0 of 512.56kB (1.38%)</text></g>
<g id="n58" class="node"><rect class="c138" x="3596.4" y="322.3" width="172.2" height="79.7"/><text class="f12" x="3682.5" y="340.9">transport</text><text class="f12" x="3682.5" y="358.1">(*fileTokenSource)</text><text class="f12" x="3682.5" y="375.3">Token</text><text class="f12" x="3682.5" y="392.5">512.56kB (1.38%)</text></g>
<g id="n59" class="node"><rect class="c138" x="3792.6" y="99" width="142.6" height="83"/><text class="s" x="3863.9" y="114">controller</text><text class="s" x="3863.9" y="125.8">(*Controller)</text><text class="s" x="3863.9" y="137.6">Start</text><text class="s" x="3863.9" y="149.4">func2</text><text class="s" x="3863.9" y="161.2">2</text><text class="s" x="3863.9" y="173">0 of 512.28kB (1.38%)</text></g>
<g id="n60" class="node"><rect class="c138" x="3792.6" y="333" width="142.6" height="59"/><text class="s" x="3863.9" y="347.8">pod</text><text class="s" x="3863.9" y="359.6">(*reconciler)</text><text class="s" x="3863.9" y="371.4">Reconcile</text><text class="s" x="3863.9" y="383.2">0 of 512.28kB (1.38%)</text></g>
<g id="n61" class="node"><rect class="c138" x="3792.6" y="536" width="142.6" height="58"/><text class="s" x="3863.9" y="550.3">v1</text><text class="s" x="3863.9" y="562.1">(*Pod)</text><text class="s" x="3863.9" y="573.9">DeepCopyObject</text><text class="s" x="3863.9" y="585.7">0 of 512.28kB (1.38%)</text></g>
<g id="n62" class="node"><rect class="c138" x="3792.6" y="754.7" width="142.6" height="58.1"/><text class="s" x="3863.9" y="769">v1</text><text class="s" x="3863.9" y="780.8">(*Pod)</text><text class="s" x="3863.9" y="792.6">DeepCopy</text><text class="s" x="3863.9" y="804.4">0 of 512.28kB (1.38%)</text></g>
<g id="n63" class="node"><rect class="c138" x="3792.6" y="918.6" width="142.6" height="57.9"/><text class="s" x="3863.9" y="932.8">v1</text><text class="s" x="3863.9" y="944.6">(*Pod)</text><text class="s" x="3863.9" y="956.4">DeepCopyInto</text><text class="s" x="3863.9" y="968.2">0 of 512.28kB (1.38%)</text></g>
<g id="n64" class="node"><rect class="c138" x="3792.6" y="1082" width="142.6" height="58.2"/><text class="s" x="3863.9" y="1096.4">v1</text><text class="s" x="3863.9" y="1108.2">(*ObjectMeta)</text><text class="s" x="3863.9" y="1120">DeepCopyInto</text><text class="s" x="3863.9" y="1131.8">0 of 512.28kB (1.38%)</text></g>
<g id="n65" class="node"><rect class="c138" x="3790.3" y="1220.6" width="147.5" height="58.1"/><text class="s" x="3864" y="1234.9">v1</text><text class="s" x="3864" y="1246.7">(*ManagedFieldsEntry)</text><text class="s" x="3864" y="1258.5">DeepCopyInto</text><text class="s" x="3864" y="1270.3">0 of 512.28kB (1.38%)</text></g>
<g id="n66" class="node"><rect class="c138" x="3780.2" y="1402" width="167.4" height="79.5"/><text class="f12" x="3863.9" y="1420.5">v1</text><text class="f12" x="3863.9" y="1437.7">(*FieldsV1)</text><text class="f12" x="3863.9" y="1454.9">DeepCopyInto</text><text class="f12" x="3863.9" y="1472.1">512.28kB (1.38%)</text></g>

<g id="leaf1" class="leaf"><use href="#box3d" x="538.5" y="760"/><text x="574.5" y="787">1.80MB</text></g>
<g id="leaf2" class="leaf"><use href="#box3d" x="896" y="760"/><text x="932" y="787">920kB</text></g>
<g id="leaf3" class="leaf"><use href="#box3d" x="1198.5" y="760"/><text x="1234.5" y="787">288B</text></g>
<g id="leaf4" class="leaf"><use href="#box3d" x="1463" y="760"/><text x="1499" y="787">288B</text></g>
<g id="leaf5" class="leaf"><use href="#box3d" x="1643" y="923"/><text x="1679" y="950">8kB</text></g>
<g id="leaf6" class="leaf"><use href="#box3d" x="1825" y="2113"/><text x="1861" y="2140">40kB</text></g>
<g id="leaf7" class="leaf"><use href="#box3d" x="2044" y="1584"/><text x="2080" y="1611">80kB</text></g>
<g id="leaf8" class="leaf"><use href="#box3d" x="2308" y="1584"/><text x="2344" y="1611">2.25kB</text></g>
<g id="leaf9" class="leaf"><use href="#box3d" x="2657" y="1584"/><text x="2693" y="1611">896B</text></g>
<g id="leaf10" class="leaf"><use href="#box3d" x="3254.7" y="1583"/><text x="3290.7" y="1610">160B</text></g>
<g id="leaf11" class="leaf"><use href="#box3d" x="3461" y="761"/><text x="3497" y="788">648kB</text></g>
<g id="leaf12" class="leaf"><use href="#box3d" x="3646.5" y="541"/><text x="3682.5" y="568">1.12kB</text></g>
<g id="leaf13" class="leaf"><use href="#box3d" x="3578.5" y="1087"/><text x="3614.5" y="1114">64kB</text></g>
<g id="leaf14" class="leaf"><use href="#box3d" x="3828" y="1583"/><text x="3864" y="1610">576B</text></g>
</svg>
